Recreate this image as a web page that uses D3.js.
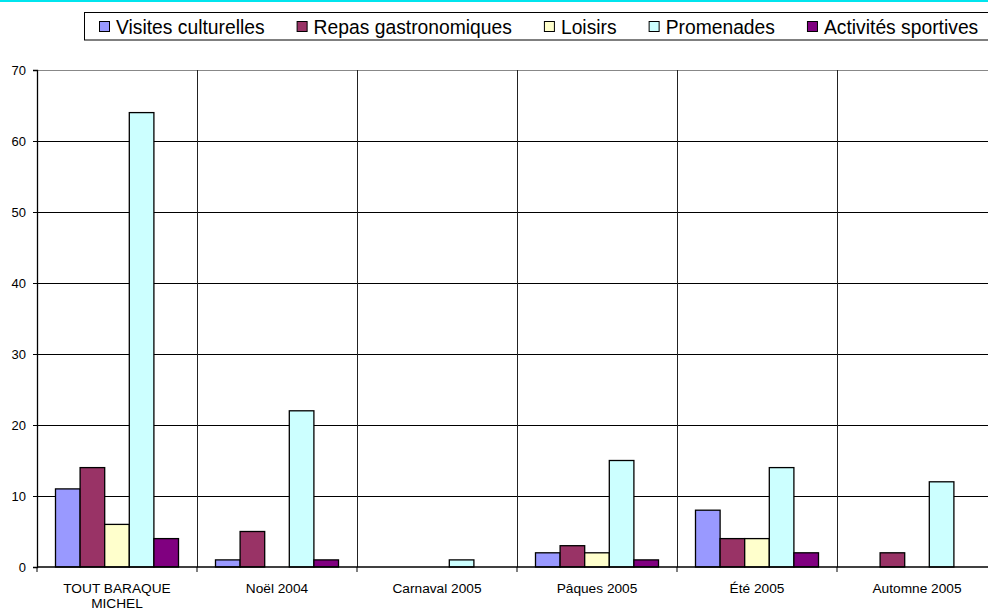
<!DOCTYPE html>
<html>
<head>
<meta charset="utf-8">
<script src="https://cdn.jsdelivr.net/npm/d3@7"></script>
<style>
  body { margin: 0; background: #fff; }
  svg { display: block; font-family: Arial, "Liberation Sans", sans-serif; }
</style>
</head>
<body>
<div class="chart"></div>
<script>
var categories = ['TOUT BARAQUE MICHEL', 'Noël 2004', 'Carnaval 2005', 'Pâques 2005', 'Été 2005', 'Automne 2005'];
var seriesNames = ['Visites culturelles', 'Repas gastronomiques', 'Loisirs', 'Promenades', 'Activités sportives'];
var colors = ['#9999FF', '#993366', '#FFFFCC', '#CCFFFF', '#800080'];

var visites = [11, 1, 0, 2, 8, 0];
var repas = [14, 5, 0, 3, 4, 2];
var loisirs = [6, 0, 0, 2, 4, 0];
var promenades = [64, 22, 1, 15, 14, 12];
var sportives = [4, 1, 0, 1, 2, 0];

var yTicks = [0, 10, 20, 30, 40, 50, 60, 70];

var values = [visites, repas, loisirs, promenades, sportives];

var W = 988, H = 610;
var margin = { top: 70, right: -9, bottom: 43, left: 37 };
var width = W - margin.left - margin.right;
var height = H - margin.top - margin.bottom;

var svg = d3.select('.chart')
  .append('svg')
    .attr('width', W)
    .attr('height', H);

// cyan line along the top
svg.append('rect')
  .attr('x', 0).attr('y', 0)
  .attr('width', W).attr('height', 2)
  .attr('fill', '#00E5EE');

var g = svg.append('g')
  .attr('transform', `translate(${margin.left}, ${margin.top})`);

var yScale = d3.scaleLinear()
  .domain([0, 70])
  .range([height, 0]);

var xScale = d3.scaleBand()
  .domain(categories)
  .range([0, width]);

var inner = d3.scaleBand()
  .domain(seriesNames)
  .range([18.5, xScale.bandwidth() - 18.5]);

// horizontal gridlines
g.selectAll('.hgrid')
  .data(yTicks.slice(1))
  .enter()
  .append('line')
  .attr('x1', 0).attr('x2', width)
  .attr('y1', d => yScale(d)).attr('y2', d => yScale(d))
  .attr('stroke', d => d === 70 ? '#888' : '#000')
  .attr('stroke-width', 1)
  .attr('shape-rendering', 'crispEdges');

// vertical gridlines between categories
g.selectAll('.vgrid')
  .data(categories.slice(1))
  .enter()
  .append('line')
  .attr('x1', d => xScale(d)).attr('x2', d => xScale(d))
  .attr('y1', 0).attr('y2', height)
  .attr('stroke', '#222')
  .attr('shape-rendering', 'crispEdges');

// bars
var groups = g.selectAll('.cat')
  .data(categories)
  .enter()
  .append('g')
  .attr('transform', d => `translate(${xScale(d)}, 0)`);

groups.selectAll('rect')
  .data((d, i) => seriesNames.map((s, j) => ({ s: s, v: values[j][i], c: colors[j] })).filter(e => e.v > 0))
  .enter()
  .append('rect')
  .attr('x', d => inner(d.s))
  .attr('y', d => yScale(d.v))
  .attr('width', inner.bandwidth())
  .attr('height', d => height - yScale(d.v))
  .attr('fill', d => d.c)
  .attr('stroke', '#000')
  .attr('stroke-width', 1.3);

// y axis
var yAxis = d3.axisLeft(yScale)
  .tickValues(yTicks)
  .tickSize(4)
  .tickPadding(7);
var ya = g.append('g').call(yAxis);
ya.select('.domain').attr('stroke', '#000').attr('stroke-width', 1.3);
ya.selectAll('text').attr('font-size', 13).attr('fill', '#000')
  .attr('font-family', 'Arial, "Liberation Sans", sans-serif');

// x axis
var xa = g.append('g').attr('transform', `translate(0, ${height})`);
xa.append('line')
  .attr('x1', 0).attr('x2', width)
  .attr('stroke', '#000').attr('stroke-width', 1.5);
xa.selectAll('.tick')
  .data(categories.concat(['end']))
  .enter()
  .append('line')
  .attr('x1', (d, i) => i * xScale.bandwidth()).attr('x2', (d, i) => i * xScale.bandwidth())
  .attr('y1', 0).attr('y2', 5)
  .attr('stroke', '#000');

var labelWrap = { 'TOUT BARAQUE MICHEL': ['TOUT BARAQUE', 'MICHEL'] };
xa.selectAll('text')
  .data(categories)
  .enter()
  .append('text')
  .attr('x', d => xScale(d) + xScale.bandwidth() / 2)
  .attr('y', 26)
  .attr('text-anchor', 'middle')
  .attr('font-size', 13.7)
  .selectAll('tspan')
  .data(d => labelWrap[d] || [d])
  .enter()
  .append('tspan')
  .attr('x', function () { return d3.select(this.parentNode).attr('x'); })
  .attr('dy', (d, i) => i === 0 ? 0 : 15)
  .text(d => d);

// legend
var legend = svg.append('g');
legend.append('rect')
  .attr('x', 84.5).attr('y', 12.5)
  .attr('width', 910).attr('height', 27.5)
  .attr('fill', '#fff')
  .attr('stroke', '#000');

var lx = 99;
seriesNames.forEach(function (s, i) {
  legend.append('rect')
    .attr('x', lx + 0.5).attr('y', 21.5)
    .attr('width', 10).attr('height', 10)
    .attr('fill', colors[i])
    .attr('stroke', '#000');
  var t = legend.append('text')
    .attr('x', lx + 17)
    .attr('y', 34)
    .attr('font-size', 19.3)
    .text(s);
  lx += 17 + t.node().getComputedTextLength() + 32;
});
</script>
</body>
</html>
